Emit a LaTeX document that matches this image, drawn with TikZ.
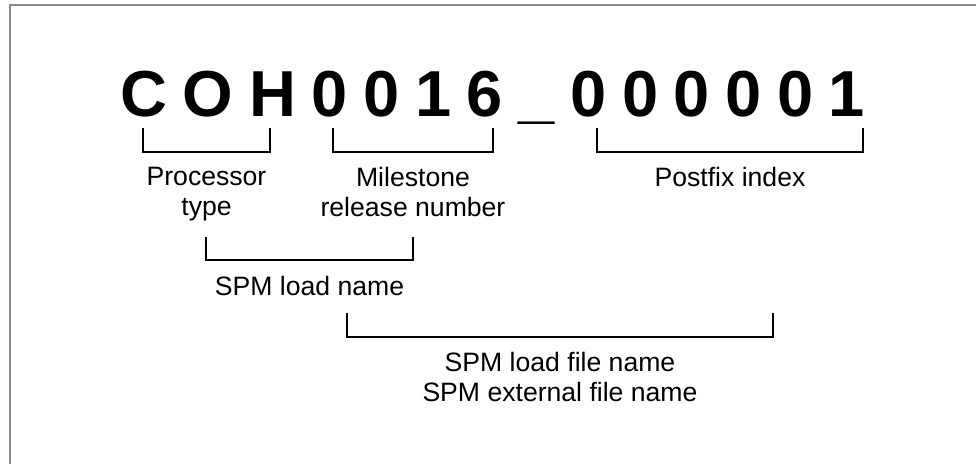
\documentclass[tikz,border=0pt]{standalone}
\usepackage{fontspec}
\setmainfont{Liberation Sans}
\newfontfamily\codefont{Liberation Sans}[LetterSpace=24]
\usetikzlibrary{positioning}
\tikzset{
	bracket/.style={draw, line width=1pt},
	lbl/.style={align=center, inner sep=0pt, font=\fontsize{13.3}{15}\selectfont},
	frameline/.style={draw=gray!90, line width=1pt}
}
\begin{document}
\begin{tikzpicture}[x=0.5pt, y=-0.5pt]
	\useasboundingbox (0,0) rectangle (976,464);
	
	%% ── Frame ───────────────────────────────────────────────────────
	\draw[frameline] (10,464) -- (10,5) -- (976,5);
	
	%% ── Part number ─────────────────────────────────────────────────
	\node[anchor=base west, inner sep=0pt,
	font=\codefont\bfseries\fontsize{32.5}{36}\selectfont] (code) at (120,117)
	{COH0016\_000001};
	
	%% ── Brackets ────────────────────────────────────────────────────
	\draw[bracket] (143,128) |- (270,152) -- (270,128);
	\draw[bracket] (333,128) |- (493,152) -- (493,128);
	\draw[bracket] (597,128) |- (863,152) -- (863,128);
	\draw[bracket] (206,237) |- (413,260) -- (413,237);
	\draw[bracket] (347,313) |- (773,337) -- (773,313);
	
	\coordinate (b1) at (206.5,152);
	\coordinate (b2) at (413,152);
	\coordinate (b3) at (730,152);
	\coordinate (b4) at (309.5,260);
	\coordinate (b5) at (560,337);
	
	%% ── Labels ──────────────────────────────────────────────────────
	\node[lbl, below=7.5pt of b1] (proc) {Processor\\type};
	\node[lbl, below=7.5pt of b2] (mile) {Milestone\\release number};
	\node[lbl, below=7.5pt of b3] (post) {Postfix index};
	\node[lbl, below=8pt of b4] (load) {SPM load name};
	\node[lbl, below=7.5pt of b5] (file) {SPM load file name\\SPM external file name};
\end{tikzpicture}
\end{document}
